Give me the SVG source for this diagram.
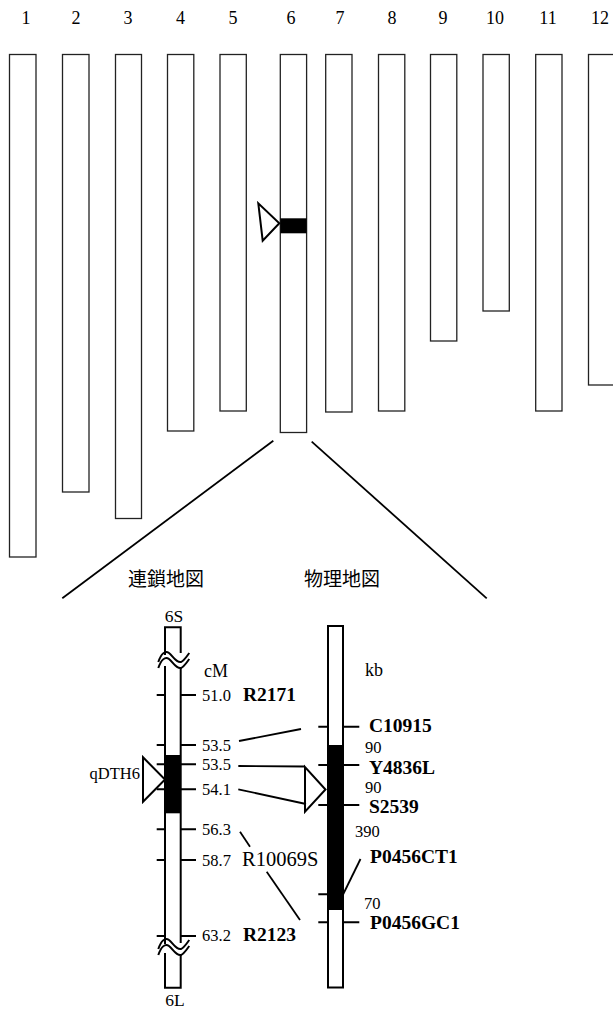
<svg xmlns="http://www.w3.org/2000/svg" width="613" height="1010" viewBox="0 0 613 1010">
<style>
.chr{fill:#fff;stroke:#222;stroke-width:1.3}
.num{font-family:"Liberation Serif",serif;font-size:18px;fill:#000;text-anchor:middle}
.ln{stroke:#000;stroke-width:1.8;fill:none}
.tk{stroke:#000;stroke-width:2;fill:none}
.body{fill:#fff;stroke:#000;stroke-width:2}
.lbl{font-family:"Liberation Serif",serif;font-size:16.5px;fill:#000}
.word{font-family:"Liberation Serif",serif;font-size:18px;fill:#000}
.mk{font-family:"Liberation Serif",serif;font-size:19.5px;font-weight:bold;fill:#000}
.jp{font-family:"Noto Sans CJK JP","Noto Sans CJK SC",sans-serif;font-size:19px;fill:#000;text-anchor:middle}
.tri{fill:#fff;stroke:#000;stroke-width:2;stroke-linejoin:miter}
</style>
<rect width="613" height="1010" fill="#fff"/>
<g id="chromosomes">
  <g id="chr1"><text class="num" x="26" y="24">1</text><rect class="chr" x="9.5" y="54.5" width="26.5" height="502.5"/></g>
  <g id="chr2"><text class="num" x="76" y="24">2</text><rect class="chr" x="62.5" y="54.5" width="26.5" height="437.5"/></g>
  <g id="chr3"><text class="num" x="128" y="24">3</text><rect class="chr" x="115.5" y="54.5" width="26" height="464"/></g>
  <g id="chr4"><text class="num" x="180.5" y="24">4</text><rect class="chr" x="167.5" y="54.5" width="26.3" height="376.5"/></g>
  <g id="chr5"><text class="num" x="233" y="24">5</text><rect class="chr" x="220" y="54.5" width="26.3" height="356.5"/></g>
  <g id="chr6"><text class="num" x="291" y="24">6</text><rect class="chr" x="280.3" y="54.5" width="26.3" height="378"/>
    <rect x="280.3" y="218.3" width="26.3" height="15" fill="#000"/>
    <polygon class="tri" points="258.3,203.3 262.7,240.7 279.3,223.3"/></g>
  <g id="chr7"><text class="num" x="340" y="24">7</text><rect class="chr" x="325.7" y="54.5" width="26.3" height="357.5"/></g>
  <g id="chr8"><text class="num" x="392" y="24">8</text><rect class="chr" x="378.5" y="54.5" width="26.3" height="356.5"/></g>
  <g id="chr9"><text class="num" x="443" y="24">9</text><rect class="chr" x="430.5" y="54.5" width="26.3" height="286.5"/></g>
  <g id="chr10"><text class="num" x="495" y="24">10</text><rect class="chr" x="483" y="54.5" width="26.3" height="256.5"/></g>
  <g id="chr11"><text class="num" x="548" y="24">11</text><rect class="chr" x="535.7" y="54.5" width="26.3" height="356.5"/></g>
  <g id="chr12"><text class="num" x="600" y="24">12</text><rect class="chr" x="588.5" y="54.5" width="26.3" height="330.5"/></g>
</g>
<g id="expansion">
  <line class="ln" x1="273.3" y1="440.7" x2="62.3" y2="598.3"/>
  <line class="ln" x1="311.7" y1="441.7" x2="486.7" y2="598.3"/>
  <text class="jp" x="166" y="586">連鎖地図</text>
  <text class="jp" x="342" y="586">物理地図</text>
</g>
<g id="linkage-map">
  <text class="word" x="174" y="622" text-anchor="middle" style="font-size:17.5px">6S</text>
  <path class="tk" d="M165,655 V627.3 H180.7 V653"/>
  <rect x="165" y="667" width="15.7" height="276" fill="#fff"/>
  <line class="tk" x1="165" y1="666" x2="165" y2="944"/>
  <line class="tk" x1="180.7" y1="668" x2="180.7" y2="943"/>
  <rect x="165" y="755" width="15.7" height="58.3" fill="#000"/>
  <path class="tk" d="M158.3,662 C161,654 165,650 169,653 C173,656 176,663 181,662 C184,661 187,656 189.3,653"/>
  <path class="tk" d="M158.3,668 C161,660 165,656 169,659 C173,662 176,669 181,668 C184,667 187,662 189.3,659"/>
  <path class="tk" d="M158.3,949 C161,941 165,937 169,940 C173,943 176,950 181,949 C184,948 187,943 189.3,940"/>
  <path class="tk" d="M158.3,955 C161,947 165,943 169,946 C173,949 176,956 181,955 C184,954 187,949 189.3,946"/>
  <path class="tk" d="M165,953 V987.7 H180.7 V955"/>
  <text class="word" x="175" y="1006" text-anchor="middle" style="font-size:17.5px">6L</text>
  <text class="word" x="204" y="677">cM</text>
  <g id="ticks-linkage">
    <path class="tk" d="M156.7,695 H165 M180.7,695 H196 M156.7,745 H165 M180.7,745 H196 M156.7,764.3 H165 M180.7,764.3 H196 M156.7,789.3 H165 M180.7,789.3 H196 M156.7,829.3 H165 M180.7,829.3 H196 M156.7,860 H165 M180.7,860 H196 M156.7,936 H165 M180.7,936 H196"/>
  </g>
  <text class="lbl" x="202" y="701">51.0</text>
  <text class="lbl" x="202" y="751">53.5</text>
  <text class="lbl" x="202" y="770">53.5</text>
  <text class="lbl" x="202" y="795">54.1</text>
  <text class="lbl" x="202" y="835">56.3</text>
  <text class="lbl" x="202" y="866">58.7</text>
  <text class="lbl" x="202" y="941">63.2</text>
  <text class="mk" x="243" y="701">R2171</text>
  <text class="mk" x="243" y="941">R2123</text>
  <text class="word" x="242" y="866" style="font-size:20.5px">R10069S</text>
  <polygon class="tri" points="143,757.3 143,801.7 165,779.5"/>
  <text class="word" x="140" y="779" text-anchor="end" style="font-size:16.5px">qDTH6</text>
</g>
<g id="physical-map">
  <rect class="body" x="328" y="626" width="15" height="361.5"/>
  <rect x="328" y="745" width="15" height="165" fill="#000"/>
  <path class="tk" d="M318.3,726.7 H328 M343,726.7 H359.3 M318.3,765 H328 M343,765 H359.3 M318.3,805 H328 M343,805 H359.3 M318.3,894.3 H328 M318.3,922.3 H328 M343,922.3 H359.3"/>
  <polygon class="tri" points="305,767 305,811.7 325.5,789.5"/>
  <text class="word" x="365" y="676">kb</text>
  <text class="mk" x="369" y="732">C10915</text>
  <text class="lbl" x="365" y="753">90</text>
  <text class="mk" x="369" y="774">Y4836L</text>
  <text class="lbl" x="365" y="793">90</text>
  <text class="mk" x="369" y="812.5">S2539</text>
  <text class="lbl" x="355" y="837">390</text>
  <text class="mk" x="370" y="863">P0456CT1</text>
  <text class="lbl" x="364" y="909">70</text>
  <text class="mk" x="370" y="928.5">P0456GC1</text>
</g>
<g id="connectors">
  <line class="ln" x1="239" y1="741" x2="301" y2="729"/>
  <line class="ln" x1="238.3" y1="766" x2="305" y2="766.5"/>
  <line class="ln" x1="238.3" y1="789.3" x2="306" y2="804"/>
  <line class="ln" x1="240" y1="831.7" x2="250" y2="846.7"/>
  <line class="ln" x1="266.7" y1="871.7" x2="300" y2="920"/>
  <line class="ln" x1="360.5" y1="859" x2="343.3" y2="894"/>
</g>
</svg>
